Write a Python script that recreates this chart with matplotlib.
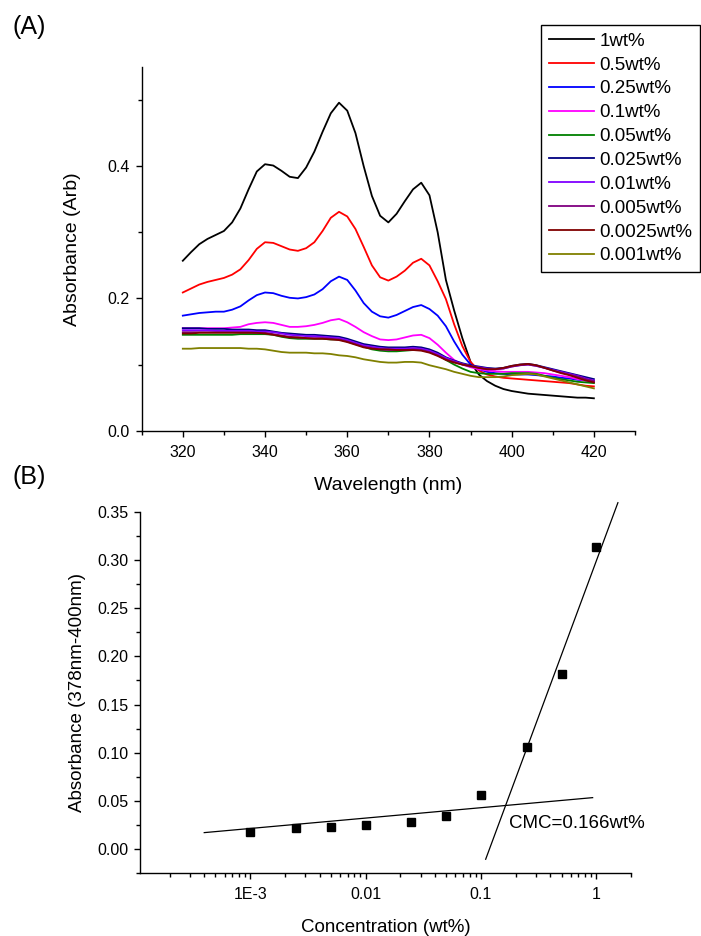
import numpy as np
import matplotlib
matplotlib.use("Agg")
import matplotlib.pyplot as plt
from matplotlib.ticker import MultipleLocator, FormatStrFormatter, FixedLocator, FixedFormatter, LogLocator

plt.rcParams["font.family"] = ["Liberation Sans", "DejaVu Sans"]

# ---- (A) UV-vis spectra --------------------------------------------------
WAVELENGTH = np.arange(320, 421, 2)

LABELS = ["1wt%", "0.5wt%", "0.25wt%", "0.1wt%", "0.05wt%", "0.025wt%",
          "0.01wt%", "0.005wt%", "0.0025wt%", "0.001wt%"]
COLORS = ["#000000", "#ff0000", "#0000ff", "#ff00ff", "#008000", "#000080",
          "#8000ff", "#800080", "#800000", "#808000"]

ABS_1 = [0.257, 0.270, 0.282, 0.290, 0.296, 0.302, 0.315, 0.336, 0.365, 0.392,
         0.403, 0.401, 0.393, 0.384, 0.382, 0.398, 0.422, 0.452, 0.480, 0.496,
         0.484, 0.450, 0.400, 0.355, 0.325, 0.315, 0.328, 0.347, 0.365, 0.375,
         0.356, 0.300, 0.228, 0.182, 0.140, 0.104, 0.085, 0.075, 0.068, 0.063,
         0.060, 0.058, 0.056, 0.055, 0.054, 0.053, 0.052, 0.051, 0.050, 0.050,
         0.049]
ABS_05 = [0.209, 0.215, 0.221, 0.225, 0.228, 0.231, 0.236, 0.244, 0.258, 0.275,
          0.285, 0.284, 0.279, 0.274, 0.272, 0.276, 0.285, 0.302, 0.322, 0.331,
          0.324, 0.305, 0.278, 0.250, 0.232, 0.227, 0.233, 0.242, 0.254, 0.260,
          0.250, 0.226, 0.199, 0.161, 0.128, 0.104, 0.091, 0.085, 0.082, 0.080,
          0.079, 0.078, 0.077, 0.076, 0.075, 0.074, 0.073, 0.072, 0.070, 0.068,
          0.067]
ABS_025 = [0.174, 0.176, 0.178, 0.179, 0.180, 0.180, 0.183, 0.188, 0.197, 0.205,
           0.209, 0.208, 0.204, 0.201, 0.200, 0.202, 0.206, 0.214, 0.226, 0.233,
           0.228, 0.212, 0.193, 0.180, 0.173, 0.171, 0.175, 0.181, 0.187, 0.190,
           0.184, 0.174, 0.158, 0.135, 0.115, 0.100, 0.093, 0.089, 0.087, 0.086,
           0.085, 0.085, 0.085, 0.084, 0.083, 0.082, 0.080, 0.079, 0.077, 0.076,
           0.075]
ABS_01 = [0.155, 0.155, 0.155, 0.155, 0.155, 0.155, 0.156, 0.157, 0.161, 0.163,
          0.164, 0.163, 0.160, 0.157, 0.157, 0.158, 0.160, 0.163, 0.167, 0.169,
          0.164, 0.157, 0.149, 0.143, 0.138, 0.137, 0.138, 0.141, 0.144, 0.145,
          0.140, 0.130, 0.118, 0.107, 0.100, 0.096, 0.093, 0.091, 0.090, 0.089,
          0.089, 0.089, 0.089, 0.088, 0.087, 0.085, 0.083, 0.081, 0.078, 0.076,
          0.074]
ABS_005 = [0.145, 0.145, 0.145, 0.145, 0.145, 0.145, 0.145, 0.146, 0.146, 0.146,
           0.146, 0.145, 0.142, 0.140, 0.139, 0.139, 0.139, 0.139, 0.138, 0.138,
           0.135, 0.131, 0.127, 0.123, 0.121, 0.120, 0.120, 0.121, 0.122, 0.123,
           0.120, 0.115, 0.107, 0.100, 0.094, 0.089, 0.087, 0.086, 0.086, 0.086,
           0.087, 0.087, 0.087, 0.086, 0.083, 0.080, 0.078, 0.076, 0.074, 0.073,
           0.072]
ABS_0025 = [0.155, 0.155, 0.155, 0.154, 0.154, 0.154, 0.153, 0.153, 0.153, 0.152,
            0.152, 0.150, 0.148, 0.147, 0.146, 0.145, 0.145, 0.144, 0.143, 0.142,
            0.139, 0.135, 0.131, 0.129, 0.127, 0.126, 0.126, 0.126, 0.127, 0.126,
            0.123, 0.118, 0.111, 0.106, 0.102, 0.099, 0.097, 0.095, 0.094, 0.095,
            0.098, 0.100, 0.101, 0.099, 0.096, 0.093, 0.090, 0.087, 0.084, 0.081,
            0.078]
ABS_001 = [0.152, 0.152, 0.152, 0.152, 0.151, 0.151, 0.151, 0.151, 0.151, 0.150,
           0.150, 0.149, 0.147, 0.145, 0.144, 0.143, 0.143, 0.142, 0.141, 0.140,
           0.137, 0.133, 0.129, 0.127, 0.125, 0.124, 0.124, 0.124, 0.125, 0.124,
           0.121, 0.116, 0.110, 0.105, 0.101, 0.098, 0.096, 0.094, 0.093, 0.094,
           0.097, 0.099, 0.100, 0.098, 0.095, 0.092, 0.089, 0.086, 0.083, 0.079,
           0.076]
ABS_0005 = [0.149, 0.149, 0.149, 0.149, 0.149, 0.149, 0.149, 0.149, 0.149, 0.148,
            0.148, 0.146, 0.144, 0.142, 0.141, 0.140, 0.140, 0.140, 0.139, 0.138,
            0.135, 0.131, 0.127, 0.125, 0.123, 0.122, 0.122, 0.122, 0.123, 0.122,
            0.119, 0.114, 0.108, 0.104, 0.100, 0.097, 0.095, 0.093, 0.093, 0.094,
            0.097, 0.099, 0.100, 0.098, 0.095, 0.091, 0.088, 0.085, 0.082, 0.078,
            0.075]
ABS_00025 = [0.147, 0.147, 0.148, 0.148, 0.148, 0.148, 0.148, 0.148, 0.148, 0.148,
             0.147, 0.145, 0.143, 0.141, 0.141, 0.140, 0.139, 0.139, 0.138, 0.137,
             0.134, 0.130, 0.126, 0.124, 0.123, 0.123, 0.122, 0.122, 0.122, 0.121,
             0.118, 0.113, 0.107, 0.103, 0.100, 0.098, 0.095, 0.093, 0.093, 0.095,
             0.098, 0.100, 0.101, 0.099, 0.095, 0.091, 0.087, 0.084, 0.080, 0.076,
             0.073]
ABS_0001 = [0.124, 0.124, 0.125, 0.125, 0.125, 0.125, 0.125, 0.125, 0.124, 0.124,
            0.123, 0.121, 0.119, 0.118, 0.118, 0.118, 0.117, 0.117, 0.116, 0.114,
            0.113, 0.111, 0.108, 0.106, 0.104, 0.103, 0.103, 0.104, 0.104, 0.103,
            0.099, 0.096, 0.093, 0.089, 0.086, 0.083, 0.081, 0.081, 0.081, 0.082,
            0.084, 0.085, 0.086, 0.085, 0.082, 0.079, 0.076, 0.073, 0.070, 0.067,
            0.064]

SPECTRA = [ABS_1, ABS_05, ABS_025, ABS_01, ABS_005, ABS_0025,
           ABS_001, ABS_0005, ABS_00025, ABS_0001]

# ---- (B) absorbance difference vs concentration ---------------------------
CONC = [0.001, 0.0025, 0.005, 0.01, 0.025, 0.05, 0.1, 0.25, 0.5, 1.0]
DIFF = [0.017, 0.022, 0.0225, 0.025, 0.028, 0.0345, 0.056, 0.106, 0.182, 0.314]

# end points of the two straight lines (linear in log10 concentration)
LOW_LINE_X = [4.0e-4, 0.93]
LOW_LINE_Y = [0.0167, 0.0531]
HIGH_LINE_X = [0.11, 1.54]
HIGH_LINE_Y = [-0.011, 0.360]
CMC_TEXT = "CMC=0.166wt%"

W, H = 701, 936
fig = plt.figure(figsize=(W / 100, H / 100), dpi=100)


def px_axes(left, top, right, bottom):
    return fig.add_axes([left / W, 1 - bottom / H, (right - left) / W, (bottom - top) / H])


def style_axes(ax):
    for side in ("top", "right"):
        ax.spines[side].set_visible(False)
    for side in ("left", "bottom"):
        ax.spines[side].set_linewidth(1.0)
    ax.tick_params(which="major", direction="out", length=4.5, width=1.0, labelsize=11.5, pad=4)
    ax.tick_params(which="minor", direction="out", length=3.0, width=1.0)
    ax.tick_params(axis="x", which="major", pad=6)


# panel A
ax_a = px_axes(141.7, 67, 635, 430.7)
for vals, col, lab in zip(SPECTRA, COLORS, LABELS):
    ax_a.plot(WAVELENGTH, vals, color=col, lw=1.3, label=lab,
              solid_joinstyle="round")
ax_a.set_xlim(310, 430)
ax_a.set_ylim(0, 0.55)
ax_a.set_xticks([320, 340, 360, 380, 400, 420])
ax_a.xaxis.set_minor_locator(MultipleLocator(10))
ax_a.yaxis.set_major_locator(MultipleLocator(0.2))
ax_a.yaxis.set_minor_locator(MultipleLocator(0.1))
ax_a.yaxis.set_major_formatter(FormatStrFormatter("%.1f"))
style_axes(ax_a)
ax_a.set_xlabel("Wavelength (nm)", fontsize=14, labelpad=12)
ax_a.set_ylabel("Absorbance (Arb)", fontsize=14, labelpad=19)

leg = ax_a.legend(loc="upper right", bbox_to_anchor=(700 / W, 1 - 25 / H),
                  bbox_transform=fig.transFigure, borderaxespad=0, fontsize=13.5,
                  frameon=True, fancybox=False, framealpha=1, edgecolor="black",
                  handlelength=2.4, handletextpad=0.3, labelspacing=0.36,
                  borderpad=0.4)
leg.get_frame().set_linewidth(1.0)

fig.text(12 / W, 1 - 27 / H, "(A)", fontsize=18, ha="left", va="center")

# panel B
ax_b = px_axes(140, 512.3, 631, 872.7)
ax_b.plot(CONC, DIFF, "s", color="black", ms=6, zorder=3)
ax_b.plot(LOW_LINE_X, LOW_LINE_Y, color="black", lw=0.9)
ax_b.plot(HIGH_LINE_X, HIGH_LINE_Y, color="black", lw=0.9, clip_on=False)
ax_b.set_xscale("log")
ax_b.set_xlim(1.11e-4, 2.0)
ax_b.set_ylim(-0.025, 0.35)
ax_b.xaxis.set_major_locator(FixedLocator([1e-3, 1e-2, 1e-1, 1]))
ax_b.xaxis.set_major_formatter(FixedFormatter(["1E-3", "0.01", "0.1", "1"]))
ax_b.xaxis.set_minor_locator(LogLocator(base=10, subs=np.arange(2, 10), numticks=20))
ax_b.xaxis.set_minor_formatter(FixedFormatter([]))
ax_b.yaxis.set_major_locator(FixedLocator(np.arange(0, 0.351, 0.05)))
ax_b.yaxis.set_minor_locator(MultipleLocator(0.025))
ax_b.yaxis.set_major_formatter(FormatStrFormatter("%.2f"))
style_axes(ax_b)
ax_b.set_xlabel("Concentration (wt%)", fontsize=13.5, labelpad=12)
ax_b.set_ylabel("Absorbance (378nm-400nm)", fontsize=13.5, labelpad=8)
ax_b.text(0.175, 0.0265, CMC_TEXT, fontsize=13.5, ha="left", va="center")

fig.text(12 / W, 1 - 477 / H, "(B)", fontsize=18, ha="left", va="center")

fig.savefig("out.png", dpi=100)
